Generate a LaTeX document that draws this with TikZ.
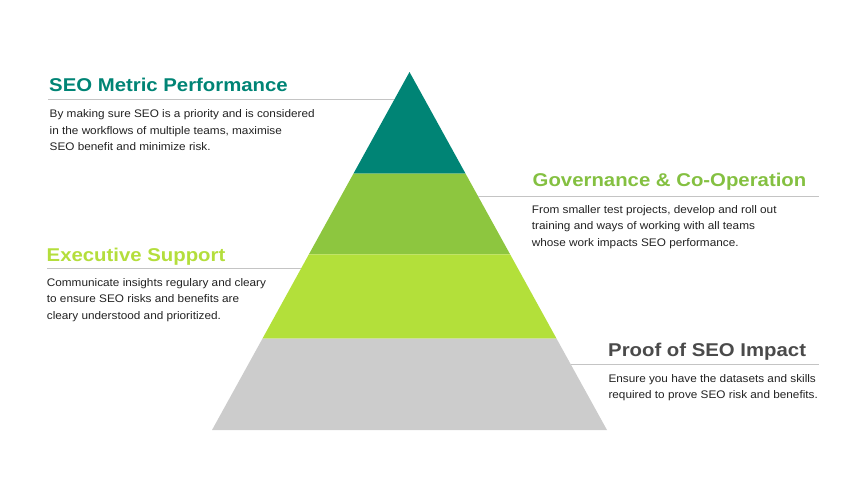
\documentclass[tikz,border=0pt]{standalone}
\usepackage{fontspec}
\setmainfont{Liberation Sans}
\newfontfamily\titlefont[FakeStretch=1.1]{Liberation Sans}
\newfontfamily\bodyfont[FakeStretch=1.07]{Liberation Sans}
\definecolor{teal}{HTML}{008475}
\definecolor{midgreen}{HTML}{8DC63F}
\definecolor{lime}{HTML}{B3E03A}
\definecolor{lgray}{HTML}{CCCCCC}
\definecolor{tgreen}{HTML}{84C041}
\definecolor{tlime}{HTML}{B4DE3C}
\definecolor{tgray}{HTML}{4A4A4A}
\definecolor{bodytext}{HTML}{222222}
\definecolor{rule}{HTML}{C4C4C4}
\begin{document}
\begin{tikzpicture}[x=1pt,y=-1pt,
  title/.style={anchor=base west,inner sep=0pt,font=\titlefont\bfseries\fontsize{18.5}{22}\selectfont},
  body/.style={anchor=base west,inner sep=0pt,align=left,text=bodytext,font=\bodyfont\fontsize{11}{16.4}\selectfont},
  rulel/.style={draw=rule,line width=0.8pt}]
\useasboundingbox (0,0) rectangle (856,480);
% pyramid corners
\coordinate (A) at (409.5,72);
\coordinate (L1) at (353.4,173.7); \coordinate (R1) at (465.6,173.7);
\coordinate (L2) at (308.9,254.3); \coordinate (R2) at (510.1,254.3);
\coordinate (L3) at (262.4,338.7); \coordinate (R3) at (556.6,338.7);
\coordinate (L4) at (212,430);     \coordinate (R4) at (607,430);
\fill[teal] (A) -- (R1) -- (L1) -- cycle;
\fill[midgreen] (L1) -- (R1) -- (R2) -- (L2) -- cycle;
\fill[lime] (L2) -- (R2) -- (R3) -- (L3) -- cycle;
\fill[lgray] (L3) -- (R3) -- (R4) -- (L4) -- cycle;
% rule end points on pyramid edges
\coordinate (e1) at (394.4,99.3);
\coordinate (e2) at (477.9,196);
\coordinate (e3) at (301.2,268.3);
\coordinate (e4) at (570.9,364.5);
\coordinate (s1) at (48,99.3);
\coordinate (s2) at (819,196);
\coordinate (s3) at (47,268.3);
\coordinate (s4) at (819,364.5);
\draw[rulel] (s1) -- (e1);
\draw[rulel] (e2) -- (s2);
\draw[rulel] (s3) -- (e3);
\draw[rulel] (e4) -- (s4);
% texts (multi-line bodies anchored at the baseline of their last line)
\node[title,text=teal] (t1) at (49,91.7) {SEO Metric Performance};
\node[body] (b1) at (49.5,150.7) {By making sure SEO is a priority and is considered\\in the workflows of multiple teams, maximise\\SEO benefit and minimize risk.};
\node[title,text=tgreen] (t2) at (532.5,186) {Governance \& Co-Operation};
\node[body] (b2) at (531.7,246.3) {From smaller test projects, develop and roll out\\training and ways of working with all teams\\whose work impacts SEO performance.};
\node[title,text=tlime] (t3) at (46.5,261.7) {Executive Support};
\node[body] (b3) at (46.7,319.3) {Communicate insights regulary and cleary\\to ensure SEO risks and benefits are\\cleary understood and prioritized.};
\node[title,text=tgray] (t4) at (608,356.7) {Proof of SEO Impact};
\node[body] (b4) at (608.3,398.5) {Ensure you have the datasets and skills\\required to prove SEO risk and benefits.};
\end{tikzpicture}
\end{document}
